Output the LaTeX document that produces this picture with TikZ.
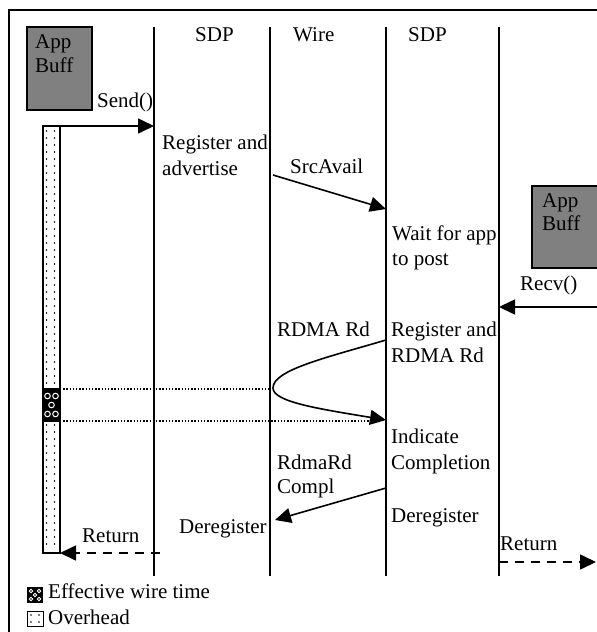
\documentclass[tikz,border=0pt]{standalone}
\usepackage{fontspec}
\setmainfont{Liberation Serif}
\usetikzlibrary{arrows.meta}
\definecolor{buffgray}{RGB}{128,128,128}
\begin{document}
\begin{tikzpicture}[x=1pt,y=-1pt,
  lbl/.style={anchor=base west, inner sep=0pt, font=\fontsize{21}{25}\selectfont},
  lble/.style={lbl, anchor=base east},
  life/.style={line width=1.6pt},
  frame/.style={line width=2pt},
  tip/.style={-{Triangle[length=16pt,width=15pt]}},
  msg/.style={line width=1.6pt, tip},
  ret/.style={msg, dash pattern=on 9pt off 7pt},
  guide/.style={line width=1.3pt, dash pattern=on 1.3pt off 1.9pt},
  buff/.style={draw, line width=1.2pt, fill=buffgray},
  bar/.style={draw, line width=1.5pt, fill=white},
  dot/.style={fill=black, draw=none}
]
\useasboundingbox (0,0) rectangle (597,632);
% frame
\draw[frame] (9,632) -- (9,10) -- (600,10);
% lifelines
\foreach \n/\x in {a/154, b/270, c/386, d/499} {
  \coordinate (\n t) at (\x,27);
  \coordinate (\n b) at (\x,576);
  \draw[life] (\n t) -- (\n b);
}
% headers
\node[lbl] (h1) at (195,41) {SDP};
\node[lbl] (h2) at (293,41) {Wire};
\node[lbl] (h3) at (408,41) {SDP};
% app buffers
\draw[buff] (27,27) rectangle (92,110);
\node[lbl] (ab1) at (35,48) {App};
\node[lbl] (ab2) at (35,72) {Buff};
\draw[buff] (532,186) rectangle (610,268);
\node[lbl] (rb1) at (542,207) {App};
\node[lbl] (rb2) at (542,230) {Buff};
% overhead bar
\draw[bar] (43,126) rectangle (60,553);
\foreach \y in {131,138,...,550} {
  \fill[dot] (46.5,\y) circle (0.85);
  \fill[dot] (54.5,\y) circle (0.85);
}
% effective wire time section
\fill[black] (43,389) rectangle (60,421);
\foreach \cx/\cy in {47.5/396, 55.5/396, 51.5/405, 47.5/414, 55.5/414} {
  \draw[white, line width=1pt] (\cx,\cy) circle (2.8);
}
\draw[line width=1.5pt] (43,389) -- (60,389) (43,421) -- (60,421);
\draw[line width=1.5pt] (43,126) rectangle (60,553);
% coordinates for messages
\coordinate (sendS) at (43,126);
\coordinate (sendE) at (154,126);
\coordinate (srcS) at (273,175);
\coordinate (srcE) at (386,209);
\coordinate (recvS) at (600,307);
\coordinate (recvE) at (499,307);
\coordinate (rdS) at (386,340);
\coordinate (rdV) at (273,388);
\coordinate (rdE) at (386,420);
\coordinate (cmpS) at (386,488);
\coordinate (cmpE) at (275,520);
\coordinate (retS) at (160,553);
\coordinate (retE) at (60,553);
\coordinate (ret2S) at (499,562);
\coordinate (ret2E) at (596,562);
\coordinate (g1S) at (60,389);
\coordinate (g1E) at (270,389);
\coordinate (g2S) at (60,421);
\coordinate (g2E) at (378,421);
% guides
\draw[guide] (g1S) -- (g1E);
\draw[guide] (g2S) -- (g2E);
% messages
\draw[msg] (sendS) -- (sendE);
\draw[msg] (srcS) -- (srcE);
\draw[msg] (recvS) -- (recvE);
\draw[msg] (rdS) .. controls (325,358) and (273,370) .. (rdV)
                 .. controls (273,402) and (320,409) .. (rdE);
\draw[msg] (cmpS) -- (cmpE);
\draw[ret] (retS) -- (retE);
\draw[ret] (ret2S) -- (ret2E);
% labels
\node[lbl] (send) at (97,107) {Send()};
\node[lbl] (reg1) at (162,149) {Register and};
\node[lbl] (reg2) at (162,175) {advertise};
\node[lbl] (src) at (290,173) {SrcAvail};
\node[lbl] (wait1) at (392,240) {Wait for app};
\node[lbl] (wait2) at (392,265) {to post};
\node[lbl] (recv) at (520,290) {Recv()};
\node[lble] (rdma) at (370,336) {RDMA Rd};
\node[lbl] (rr1) at (391,336) {Register and};
\node[lbl] (rr2) at (391,362) {RDMA Rd};
\node[lbl] (ind1) at (391,443) {Indicate};
\node[lbl] (ind2) at (391,469) {Completion};
\node[lbl] (cmp1) at (277,469) {RdmaRd};
\node[lbl] (cmp2) at (277,493) {Compl};
\node[lbl] (dereg1) at (179,533) {Deregister};
\node[lbl] (dereg2) at (391,522) {Deregister};
\node[lbl] (ret1) at (82,542) {Return};
\node[lbl] (ret2) at (500,550) {Return};
% legend
\fill[black] (27,587) rectangle (43,603);
\foreach \cx/\cy in {31/591, 39/591, 35/595, 31/599, 39/599} {
  \draw[white, line width=0.8pt] (\cx,\cy) circle (1.8);
}
\draw[line width=1pt, fill=white] (27,611) rectangle (43,626);
\foreach \cx/\cy in {31/615, 39/615, 31/622, 39/622} {
  \fill[dot] (\cx,\cy) circle (0.85);
}
\node[lbl] (leg1) at (48,598) {Effective wire time};
\node[lbl] (leg2) at (48,624) {Overhead};
\end{tikzpicture}
\end{document}
